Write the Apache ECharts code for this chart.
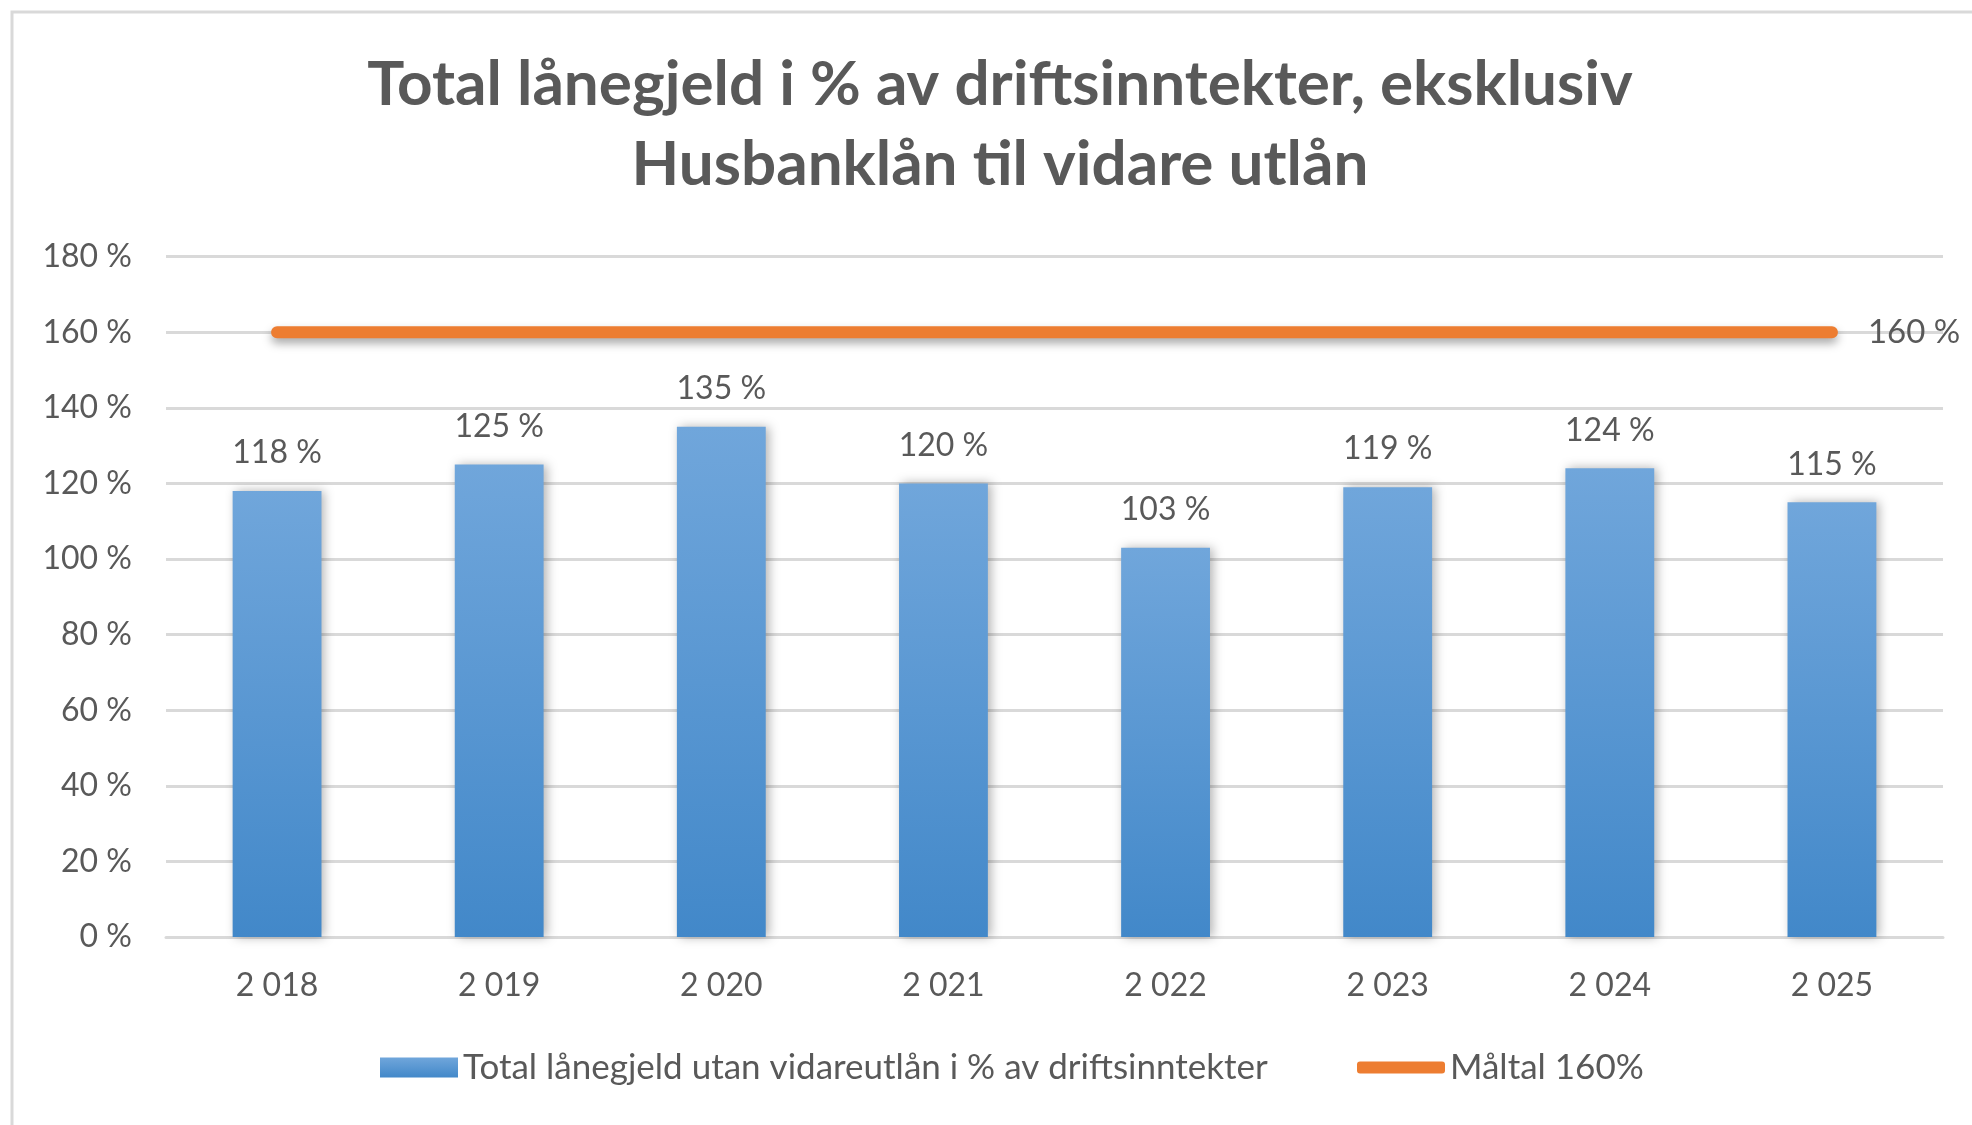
<!DOCTYPE html>
<html>
<head>
<meta charset="utf-8">
<title>Total lånegjeld</title>
<script src="https://cdn.jsdelivr.net/npm/echarts@6/dist/echarts.min.js"></script>
<style>
    html, body { margin: 0; padding: 0; background: #fff; }
    #chart { width: 1972px; height: 1125px; }
</style>
</head>
<body>
<div id="chart"></div>
<script>
var years = ['2 018', '2 019', '2 020', '2 021', '2 022', '2 023', '2 024', '2 025'];
var lanegjeld = [118, 125, 135, 120, 103, 119, 124, 115];
var maltal = [160, 160, 160, 160, 160, 160, 160, 160];
var yTicks = { min: 0, max: 180, interval: 20 };

var barName = 'Total lånegjeld utan vidareutlån i % av driftsinntekter';
var lineName = 'Måltal 160%';
var textColor = '#595959';
var font = 'Lato';

var myChart = echarts.init(document.getElementById('chart'));

var option = {
    backgroundColor: '#fff',
    animation: false,
    textStyle: { fontFamily: font },
    title: {
        text: 'Total lånegjeld i % av driftsinntekter, eksklusiv\nHusbanklån til vidare utlån',
        left: 995,
        top: 40,
        textAlign: 'center',
        textStyle: {
            color: textColor,
            fontFamily: font,
            fontWeight: 'bold',
            fontSize: 62,
            lineHeight: 80
        }
    },
    // ramme rundt diagrammet
    graphic: [{
        type: 'rect',
        shape: { x: 12, y: 12, width: 2000, height: 1200 },
        style: { fill: 'none', stroke: '#d9d9d9', lineWidth: 3 },
        silent: true
    }],
    legend: [{
        data: [{ name: barName, icon: 'rect' }],
        left: 375,
        top: 1045,
        itemWidth: 78,
        itemHeight: 20,
        textStyle: { color: textColor, fontSize: 35, fontFamily: font }
    }, {
        data: [{ name: lineName, icon: 'roundRect' }],
        left: 1352,
        top: 1045,
        itemWidth: 88,
        itemHeight: 12,
        textStyle: { color: textColor, fontSize: 35, fontFamily: font }
    }],
    grid: {
        left: 166,
        right: 29,
        top: 256.6,
        bottom: 188,
        containLabel: false
    },
    xAxis: {
        type: 'category',
        data: years,
        axisTick: { show: false },
        axisLine: { lineStyle: { color: '#d9d9d9', width: 3 } },
        axisLabel: { color: textColor, fontSize: 32, margin: 33 }
    },
    yAxis: {
        type: 'value',
        min: yTicks.min,
        max: yTicks.max,
        interval: yTicks.interval,
        axisLine: { show: false },
        axisTick: { show: false },
        splitLine: { lineStyle: { color: '#d9d9d9', width: 3 } },
        axisLabel: {
            color: textColor,
            fontSize: 32,
            margin: 34,
            formatter: '{value} %'
        }
    },
    series: [{
        name: barName,
        type: 'bar',
        data: lanegjeld,
        barCategoryGap: '60%',
        itemStyle: {
            color: new echarts.graphic.LinearGradient(0, 0, 0, 1, [
                { offset: 0, color: '#70a6db' },
                { offset: 1, color: '#4288c9' }
            ]),
            shadowBlur: 10,
            shadowColor: 'rgba(0,0,0,0.3)',
            shadowOffsetX: 3
        },
        label: {
            show: true,
            position: 'top',
            distance: 22,
            color: textColor,
            fontSize: 32,
            formatter: '{c} %'
        },
        z: 2
    }, {
        name: lineName,
        type: 'line',
        data: maltal,
        symbol: 'none',
        lineStyle: {
            color: '#ed7d31',
            width: 12,
            cap: 'round',
            shadowBlur: 10,
            shadowColor: 'rgba(0,0,0,0.35)',
            shadowOffsetY: 5
        },
        itemStyle: { color: '#ed7d31' },
        endLabel: {
            show: true,
            distance: 36,
            color: textColor,
            fontSize: 33,
            formatter: '{c} %'
        },
        z: 3
    }]
};

myChart.setOption(option);
</script>
</body>
</html>
